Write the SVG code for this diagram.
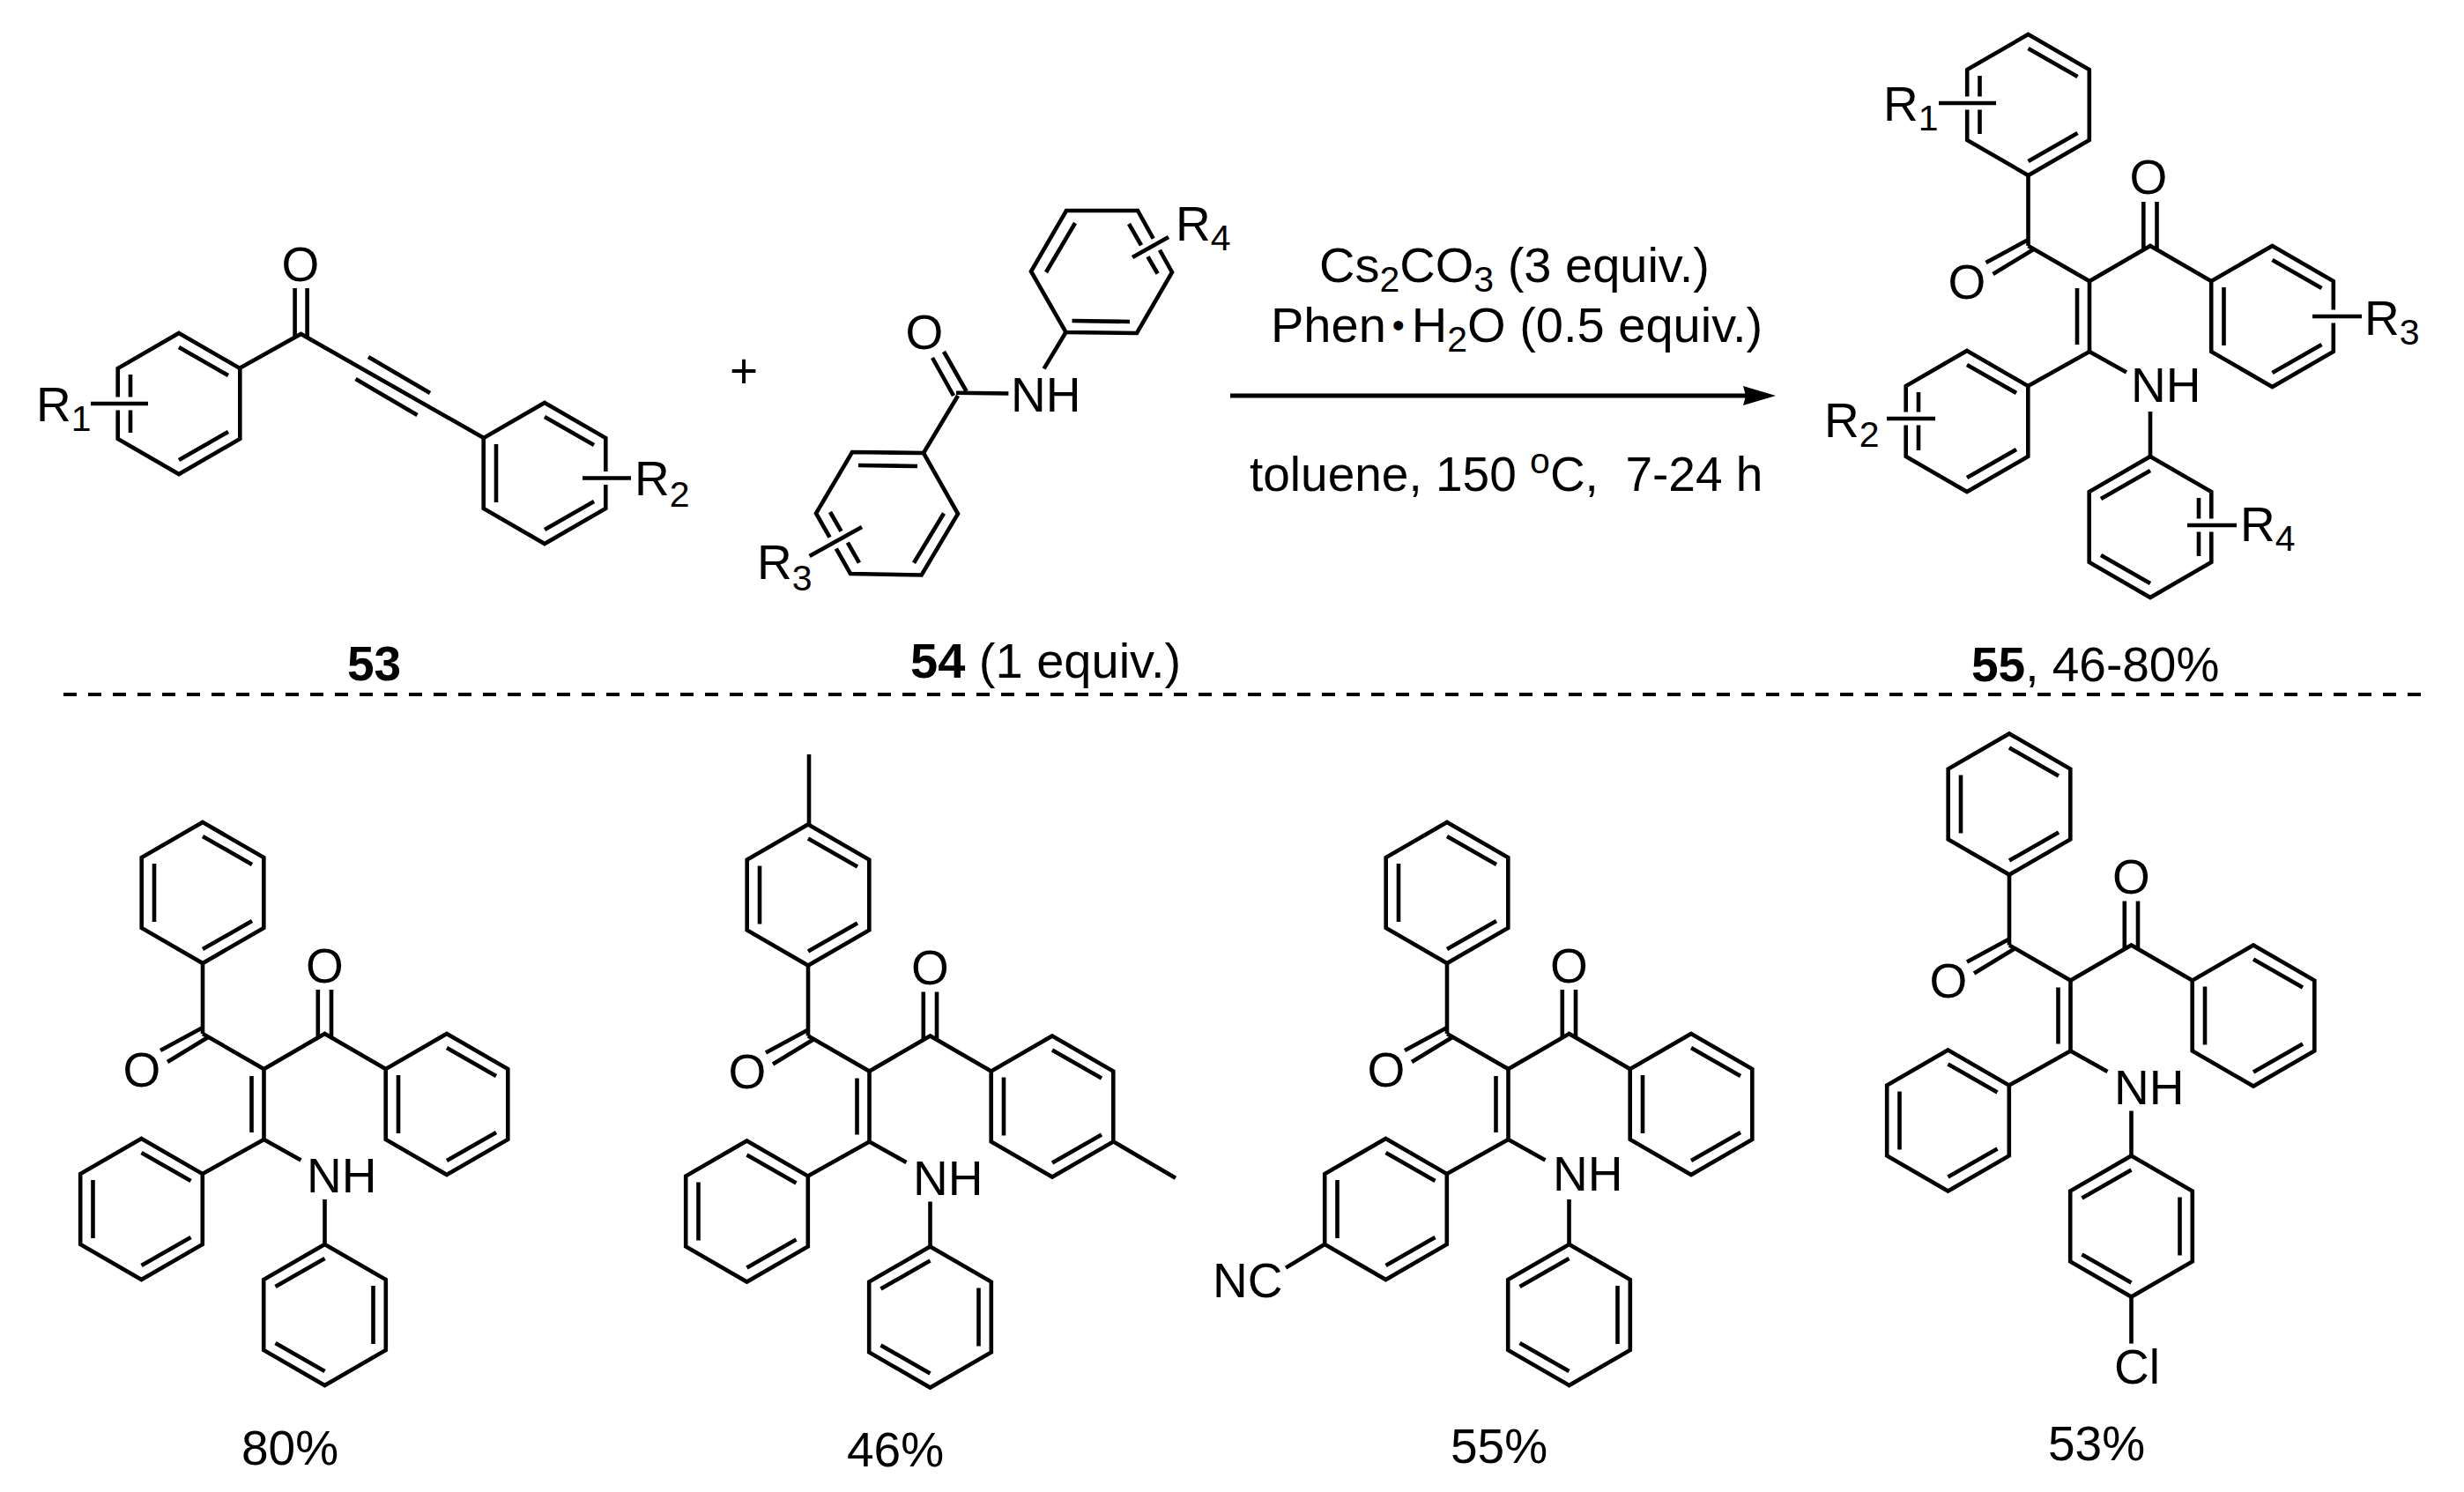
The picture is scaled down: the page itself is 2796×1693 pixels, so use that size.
<svg xmlns="http://www.w3.org/2000/svg" width="2796" height="1693" viewBox="0 0 2796 1693">
<style>
text{font-family:"Liberation Sans",Arial,sans-serif;font-size:55px;fill:#000;white-space:pre}
.m{text-anchor:middle}
.bold{font-weight:bold}
.s{font-size:41px}
.w56{font-size:56px}
line,polygon,polyline{fill:none;stroke:#000;stroke-width:4.6;stroke-linecap:butt;stroke-linejoin:miter}
line.w{stroke:#fff;stroke-width:15}
</style>
<defs>
<marker id="head" markerUnits="userSpaceOnUse" viewBox="0 0 37 22" refX="7" refY="11" markerWidth="37" markerHeight="22" orient="auto"><path d="M0,0 L37,11 L0,22 L3,11 Z" fill="#000"/></marker>
<g id="ringA">
<polygon points="0,-80 69.3,-40 69.3,40 0,80 -69.3,40 -69.3,-40"/>
<line x1="0" y1="-64" x2="56" y2="-32"/><line x1="0" y1="64" x2="56" y2="32"/><line x1="-55" y1="-33" x2="-55" y2="33"/>
</g>
<g id="ringB">
<polygon points="0,-80 69.3,-40 69.3,40 0,80 -69.3,40 -69.3,-40"/>
<line x1="0" y1="-64" x2="-56" y2="-32"/><line x1="0" y1="64" x2="-56" y2="32"/><line x1="55" y1="-33" x2="55" y2="33"/>
</g>
<g id="mol">
<line x1="-69.5" y1="-120" x2="-69.5" y2="-40"/>
<polyline points="-69.5,-40 0,0 69,-40 138.2,0"/>
<line x1="0" y1="0" x2="0" y2="80"/><line x1="-14" y1="8" x2="-14" y2="72"/>
<line x1="0" y1="80" x2="-69.7" y2="119"/><line x1="0" y1="80" x2="42" y2="103.5"/>
<line x1="69" y1="148" x2="69" y2="199"/>
<line x1="-117.5" y1="-21" x2="-69.5" y2="-47"/><line x1="-109.5" y1="-8" x2="-63.5" y2="-36"/>
<line x1="61.3" y1="-90" x2="61.3" y2="-36"/><line x1="76.5" y1="-90" x2="76.5" y2="-36"/>
<use href="#ringA" x="-69.5" y="-200"/><use href="#ringA" x="207.5" y="40"/><use href="#ringA" x="-139" y="159"/><use href="#ringB" x="69" y="279"/>
</g>
</defs>
<rect width="2796" height="1693" fill="#fff"/>

<g id="compound-53">
<use href="#ringA" x="203" y="458"/>
<use href="#ringA" x="618" y="537"/>
<polyline points="271.5,418 341.5,379 549,497"/>
<line x1="334.6" y1="327" x2="334.6" y2="383"/><line x1="348.6" y1="327" x2="348.6" y2="383"/>
<line x1="418" y1="405" x2="488" y2="446"/><line x1="403.5" y1="430" x2="473.5" y2="471"/>
<line class="w" x1="125" y1="458" x2="160" y2="458"/><line x1="103" y1="458" x2="168" y2="458"/>
<line class="w" x1="680" y1="542.5" x2="695" y2="542.5"/><line x1="661" y1="542.5" x2="716" y2="542.5"/>
<text class="m" x="341" y="319">O</text>
<text x="41" y="477.5">R<tspan class="s" dy="11">1</tspan></text>
<text x="720" y="561.5">R<tspan class="s" dy="13">2</tspan></text>
<text class="bold" x="394" y="772">53</text>
</g>

<g id="plus"><text class="m" x="844" y="440">+</text></g>

<g id="compound-54">
<polygon points="1210,239 1291,239 1330,309 1290,378 1209.5,377 1170,308"/>
<line x1="1220" y1="253" x2="1187" y2="309"/><line x1="1216.5" y1="364" x2="1282" y2="365"/>
<line x1="1281" y1="254" x2="1313.6" y2="310.5"/>
<line class="w" x1="1293" y1="288" x2="1318" y2="274"/>
<line x1="1285" y1="292" x2="1326" y2="269"/>
<line x1="1209.5" y1="377" x2="1184.6" y2="418.4"/>
<line x1="1085" y1="445.7" x2="1144.4" y2="446.5"/>
<line x1="1087" y1="449" x2="1048" y2="514"/>
<line x1="1058" y1="406" x2="1082" y2="449"/><line x1="1071" y1="399" x2="1096.6" y2="444"/>
<polygon points="1048,514 967,513 926,582.5 965,651 1045.7,652.5 1087,583"/>
<line x1="974" y1="528" x2="1041" y2="529"/><line x1="1071" y1="582.5" x2="1037" y2="638.7"/>
<line x1="942" y1="581" x2="975" y2="638.7"/>
<line class="w" x1="936" y1="621" x2="968" y2="604"/>
<line x1="918.6" y1="631" x2="978" y2="598"/>
<text class="m" x="1049" y="396">O</text>
<text x="1147" y="466.7">NH</text>
<text x="1334" y="273">R<tspan class="s" dy="11">4</tspan></text>
<text x="859" y="656.5">R<tspan class="s" dy="13">3</tspan></text>
<text class="w56" x="1033" y="769"><tspan class="bold">54</tspan> (1 equiv.)</text>
</g>

<g id="connectors">
<line x1="1396" y1="449" x2="1985" y2="449" marker-end="url(#head)" style="stroke-width:5"/>
</g>

<g id="conditions">
<text class="w56" x="1497" y="320">Cs<tspan class="s" dy="11">2</tspan><tspan dy="-11">CO</tspan><tspan class="s" dy="11">3</tspan><tspan dy="-11"> (3 equiv.)</tspan></text>
<text class="w56" x="1442" y="388">Phen<tspan style="font-size:40px" dx="7" dy="-5">•</tspan><tspan dx="8" dy="5">H</tspan><tspan class="s" dy="11">2</tspan><tspan dy="-11">O (0.5 equiv.)</tspan></text>
<text x="1418" y="557">toluene, 150 <tspan class="s" dy="-20">o</tspan><tspan dy="20">C,  7-24 h</tspan></text>
</g>

<g id="compound-55">
<use href="#mol" x="2371" y="319"/>
<line class="w" x1="2220" y1="117" x2="2255" y2="117"/><line x1="2200" y1="117" x2="2265" y2="117"/>
<line class="w" x1="2150" y1="475" x2="2185" y2="475"/><line x1="2141" y1="475" x2="2196" y2="475"/>
<line class="w" x1="2635" y1="359" x2="2660" y2="359"/><line x1="2624" y1="359" x2="2680" y2="359"/>
<line class="w" x1="2490" y1="596" x2="2530" y2="596"/><line x1="2482" y1="596" x2="2538" y2="596"/>
<text class="m" x="2232" y="339">O</text>
<text class="m" x="2438" y="220">O</text>
<text x="2418" y="456">NH</text>
<text x="2137" y="137">R<tspan class="s" dy="11">1</tspan></text>
<text x="2070" y="496">R<tspan class="s" dy="11">2</tspan></text>
<text x="2683" y="380">R<tspan class="s" dy="11">3</tspan></text>
<text x="2542" y="614">R<tspan class="s" dy="11">4</tspan></text>
<text x="2237" y="773"><tspan class="bold">55</tspan>, 46-80%</text>
</g>

<line id="divider" x1="72" y1="788" x2="2748" y2="788" style="stroke-width:4;stroke-dasharray:15 13"/>

<g id="example-80">
<use href="#mol" x="299.5" y="1213"/>
<text class="m" x="161" y="1233">O</text>
<text class="m" x="368.5" y="1115">O</text>
<text x="348" y="1352.7">NH</text>
<text class="m" x="329" y="1662">80%</text>
</g>

<g id="example-46">
<use href="#mol" x="986.5" y="1215.5"/>
<line x1="918" y1="938" x2="918" y2="856"/>
<line x1="1264.5" y1="1296" x2="1334" y2="1336.7"/>
<text class="m" x="848" y="1235">O</text>
<text class="m" x="1055.5" y="1117">O</text>
<text x="1036" y="1355.7">NH</text>
<text class="m" x="1016" y="1664">46%</text>
</g>

<g id="example-55">
<use href="#mol" x="1711.5" y="1213"/>
<line x1="1503" y1="1412" x2="1459" y2="1438.6"/>
<text class="m" x="1573" y="1233">O</text>
<text class="m" x="1780.5" y="1115">O</text>
<text x="1762" y="1351">NH</text>
<text x="1376" y="1471.5">NC</text>
<text class="m" x="1701" y="1660">55%</text>
</g>

<g id="example-53">
<use href="#mol" x="2349.5" y="1112.5"/>
<line x1="2418.5" y1="1471" x2="2418.5" y2="1524.6"/>
<text class="m" x="2211" y="1132">O</text>
<text class="m" x="2418.5" y="1014">O</text>
<text x="2399" y="1252.7">NH</text>
<text x="2399" y="1570">Cl</text>
<text class="m" x="2379" y="1657">53%</text>
</g>
</svg>
